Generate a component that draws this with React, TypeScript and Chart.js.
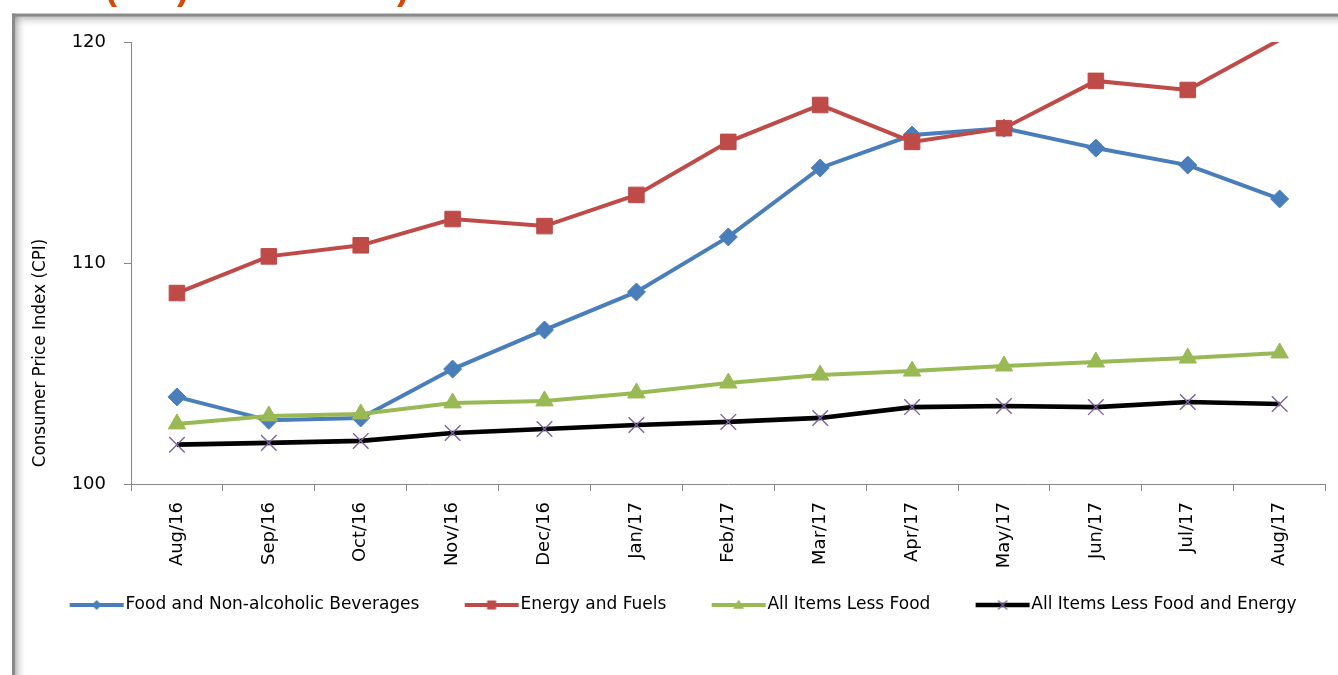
import React, { useEffect, useRef } from 'react';
import { Chart, registerables } from 'chart.js';

Chart.register(...registerables);

const categories = ['Aug/16', 'Sep/16', 'Oct/16', 'Nov/16', 'Dec/16', 'Jan/17', 'Feb/17', 'Mar/17', 'Apr/17', 'May/17', 'Jun/17', 'Jul/17', 'Aug/17'];
const foodValues = [103.94, 102.88, 102.99, 105.2, 106.97, 108.69, 111.18, 114.3, 115.79, 116.1, 115.2, 114.43, 112.9];
const energyValues = [108.64, 110.3, 110.8, 111.99, 111.67, 113.08, 115.48, 117.15, 115.48, 116.1, 118.24, 117.83, 120.1];
const lessFoodValues = [102.72, 103.08, 103.17, 103.67, 103.76, 104.12, 104.57, 104.93, 105.11, 105.34, 105.52, 105.7, 105.93];
const coreValues = [101.78, 101.86, 101.95, 102.31, 102.49, 102.67, 102.81, 102.99, 103.48, 103.53, 103.48, 103.71, 103.62];
const seriesNames = ['Food and Non-alcoholic Beverages', 'Energy and Fuels', 'All Items Less Food', 'All Items Less Food and Energy'];
const yMin = 100;
const yMax = 120;
const yStep = 10;
const yAxisTitle = 'Consumer Price Index (CPI)';
const headingPrefix = 'Consumer Price Index ';
const headingText = 'Consumer Price Index (CPI) Movements)';

const BLUE = '#4a7ebb';
const RED = '#be4b48';
const GREEN = '#98b954';
const BLACK = '#000000';
const PURPLE = '#7d60a0';
const AXIS = '#868686';
const FONT = '"DejaVu Sans", sans-serif';

function drawMarker(ctx: CanvasRenderingContext2D, kind: string, x: number, y: number, r: number, color: string) {
  ctx.save();
  ctx.fillStyle = color;
  ctx.strokeStyle = color;
  ctx.beginPath();
  if (kind === 'rectRot') {
    ctx.moveTo(x, y - r); ctx.lineTo(x + r, y); ctx.lineTo(x, y + r); ctx.lineTo(x - r, y); ctx.closePath(); ctx.fill();
  } else if (kind === 'rect') {
    ctx.rect(x - r, y - r, 2 * r, 2 * r); ctx.fill();
  } else if (kind === 'triangle') {
    ctx.moveTo(x, y - r); ctx.lineTo(x + r, y + r * 0.7); ctx.lineTo(x - r, y + r * 0.7); ctx.closePath(); ctx.fill();
  } else {
    ctx.lineWidth = 1.3;
    ctx.moveTo(x - r, y - r); ctx.lineTo(x + r, y + r);
    ctx.moveTo(x + r, y - r); ctx.lineTo(x - r, y + r);
    ctx.stroke();
  }
  ctx.restore();
}

function makeLegendImage(lineColor: string, kind: string, markerColor: string, r: number, lw: number) {
  const c = document.createElement('canvas');
  c.width = 109;
  c.height = 16;
  const ctx = c.getContext('2d') as CanvasRenderingContext2D;
  ctx.strokeStyle = lineColor;
  ctx.lineWidth = lw;
  ctx.lineCap = 'butt';
  ctx.beginPath();
  ctx.moveTo(51, 8);
  ctx.lineTo(105, 8);
  ctx.stroke();
  drawMarker(ctx, kind, 78, 8, r, markerColor);
  return c;
}

const decorPlugin = {
  id: 'decor',
  beforeDraw(chart: any) {
    const ctx = chart.ctx as CanvasRenderingContext2D;
    const W = chart.width;
    const H = chart.height;
    ctx.save();
    // clipped heading
    ctx.font = 'bold 36px "Liberation Sans", sans-serif';
    ctx.fillStyle = '#d4480e';
    ctx.textBaseline = 'alphabetic';
    ctx.textAlign = 'left';
    const pre = ctx.measureText(headingPrefix).width;
    ctx.fillText(headingText, 105 - pre, -1);
    // frame shadows
    const gTop = ctx.createLinearGradient(0, 16, 0, 28);
    gTop.addColorStop(0, 'rgba(130,130,130,0.55)');
    gTop.addColorStop(1, 'rgba(255,255,255,0)');
    ctx.fillStyle = gTop;
    ctx.fillRect(14, 16, W - 14, 12);
    const gLeft = ctx.createLinearGradient(15, 0, 27, 0);
    gLeft.addColorStop(0, 'rgba(130,130,130,0.55)');
    gLeft.addColorStop(1, 'rgba(255,255,255,0)');
    ctx.fillStyle = gLeft;
    ctx.fillRect(15, 16, 12, H - 16);
    ctx.fillStyle = '#8a8a8a';
    ctx.fillRect(12, 13.5, W - 12, 3);
    ctx.fillRect(12, 13.5, 3, H - 13.5);
    // y axis title
    ctx.translate(41, 353);
    ctx.rotate(-Math.PI / 2);
    ctx.font = '16.8px ' + FONT;
    ctx.fillStyle = '#000';
    ctx.textAlign = 'center';
    ctx.textBaseline = 'middle';
    ctx.fillText(yAxisTitle, 0, 0);
    ctx.restore();
  },
};

export default function App() {
  const ref = useRef<HTMLCanvasElement | null>(null);

  useEffect(() => {
    if (!ref.current) return;
    const styles = [
      { color: BLUE, kind: 'rectRot', marker: BLUE, r: 9, lr: 5, bw: 4 },
      { color: RED, kind: 'rect', marker: RED, r: 11, lr: 4.5, bw: 4 },
      { color: GREEN, kind: 'triangle', marker: GREEN, r: 10, lr: 5.5, bw: 4 },
      { color: BLACK, kind: 'crossRot', marker: PURPLE, r: 11, lr: 4.5, bw: 4.6 },
    ];
    const values = [foodValues, energyValues, lessFoodValues, coreValues];
    const legendImages = styles.map((s) => makeLegendImage(s.color, s.kind, s.marker, s.lr, s.bw));

    const datasets = values.map((vals, i) => {
      const s = styles[i];
      return {
        label: seriesNames[i],
        data: vals,
        borderColor: s.color,
        backgroundColor: s.marker,
        pointBackgroundColor: s.marker,
        pointBorderColor: s.marker,
        pointBorderWidth: s.kind === 'crossRot' ? 1.4 : 1,
        pointStyle: s.kind,
        pointRadius: (c: any) => (c.parsed && c.parsed.y > yMax ? 0 : s.r),
        borderWidth: s.bw,
        tension: 0,
        order: 4 - i,
        clip: { left: 10, top: 0, right: 10, bottom: 10 },
      };
    });

    const chart = new Chart(ref.current, {
      type: 'line',
      data: { labels: categories, datasets: datasets as any },
      plugins: [decorPlugin],
      options: {
        animation: false,
        responsive: true,
        maintainAspectRatio: false,
        layout: { padding: { left: 0, right: 12, top: 42, bottom: 51.5 } },
        plugins: {
          tooltip: { enabled: false },
          title: { display: false },
          legend: {
            position: 'bottom',
            align: 'center',
            labels: {
              usePointStyle: true,
              pointStyleWidth: 87.5,
              padding: 5,
              color: '#000',
              font: { family: FONT, size: 17 },
              generateLabels: () =>
                seriesNames.map((name, i) => ({
                  text: name,
                  pointStyle: legendImages[i] as any,
                  fillStyle: styles[i].color,
                  strokeStyle: 'rgba(0,0,0,0)',
                  lineWidth: 0,
                  hidden: false,
                  datasetIndex: i,
                  fontColor: '#000',
                })),
            },
          },
        },
        scales: {
          x: {
            type: 'category',
            offset: true,
            afterFit: (scale: any) => { scale.height = 107.5; },
            grid: { display: true, offset: true, drawOnChartArea: false, drawTicks: true, tickLength: 7, color: AXIS },
            border: { display: true, color: AXIS, width: 1 },
            ticks: {
              autoSkip: false,
              maxRotation: 90,
              minRotation: 90,
              padding: 11,
              color: '#000',
              font: { family: FONT, size: 18 },
            },
          },
          y: {
            min: yMin,
            max: yMax,
            afterFit: (scale: any) => { scale.width = 131; },
            grid: { display: true, drawOnChartArea: false, drawTicks: true, tickLength: 7, color: AXIS },
            border: { display: true, color: AXIS, width: 1 },
            ticks: {
              stepSize: yStep,
              padding: 18,
              color: '#000',
              font: { family: FONT, size: 18 },
            },
          },
        },
      },
    });
    return () => chart.destroy();
  }, []);

  return (
    <div style={{ position: 'fixed', left: 0, top: 0, width: 1338, height: 675, background: '#fff' }}>
      <canvas ref={ref} />
    </div>
  );
}
